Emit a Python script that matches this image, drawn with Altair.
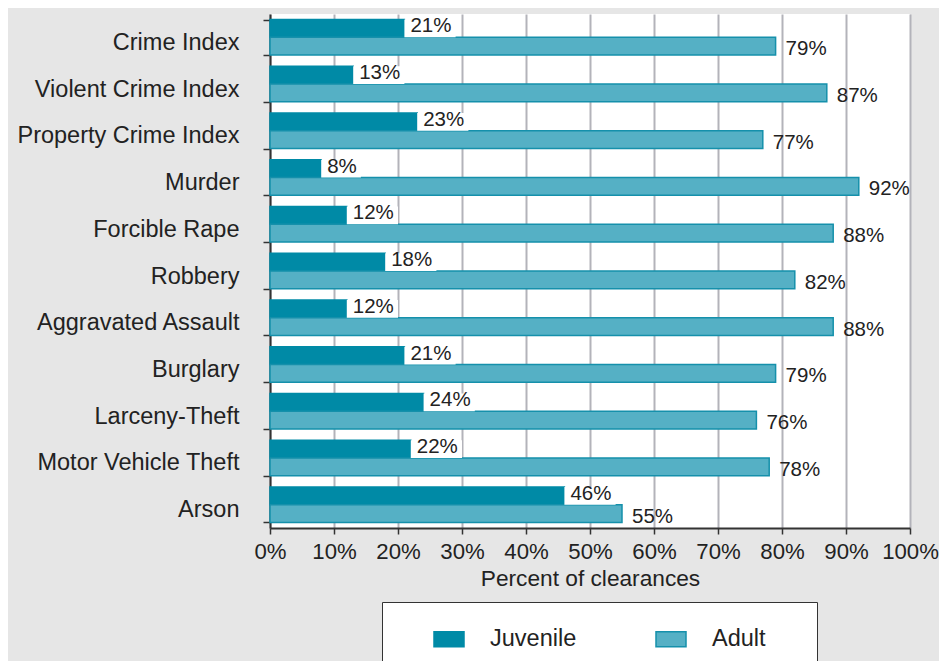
import altair as alt
import pandas as pd

categories = ["Crime Index", "Violent Crime Index", "Property Crime Index", "Murder",
              "Forcible Rape", "Robbery", "Aggravated Assault", "Burglary",
              "Larceny-Theft", "Motor Vehicle Theft", "Arson"]
juvenile = [21, 13, 23, 8, 12, 18, 12, 21, 24, 22, 46]
adult = [79, 87, 77, 92, 88, 82, 88, 79, 76, 78, 55]
series = ["Juvenile", "Adult"]
x_ticks = list(range(0, 101, 10))

FONT = "Liberation Sans"
TEXT = "#222222"
JUV = "#008aa6"
ADU = "#55b0c5"
ADU_STROKE = "#1590ab"

rows = []
for c, j, a in zip(categories, juvenile, adult):
    rows.append({"offense": c, "group": "Juvenile", "pct": j})
    rows.append({"offense": c, "group": "Adult", "pct": a})
df = pd.DataFrame(rows)

y_enc = alt.Y("offense:N", sort=categories,
              scale=alt.Scale(paddingInner=0.24, paddingOuter=0.12),
              axis=alt.Axis(title=None, labelFontSize=23.5, labelFont=FONT,
                            labelColor=TEXT, labelPadding=24, labelLimit=400,
                            tickSize=7, tickWidth=1.5, tickColor="#333333",
                            tickBand="extent", domainColor="#333333", domainWidth=2,
                            labelOffset=5))
yo_enc = alt.YOffset("group:N", sort=series,
                     scale=alt.Scale(paddingInner=0, paddingOuter=0))
x_enc = alt.X("pct:Q", scale=alt.Scale(domain=[0, 100], nice=False),
              axis=alt.Axis(values=x_ticks, labelExpr="datum.value + '%'",
                            labelOverlap=False, labelFlush=False,
                            title="Percent of clearances", titleFontSize=22.7,
                            titleFont=FONT, titleFontWeight="normal", titleColor=TEXT,
                            titlePadding=5, labelFontSize=22.2, labelFont=FONT,
                            labelColor=TEXT, labelPadding=6, tickSize=6, tickWidth=1.5,
                            tickColor="#333333", domainColor="#333333", domainWidth=2,
                            grid=True, gridColor="#b3b3ba", gridWidth=2))

base = alt.Chart(df)

bars = base.mark_bar(strokeWidth=1.5).encode(
    x=x_enc,
    y=y_enc,
    yOffset=yo_enc,
    color=alt.Color("group:N", sort=series,
                    scale=alt.Scale(domain=series, range=[JUV, ADU]),
                    legend=alt.Legend(title="\u00a0", titleOrient="right", titlePadding=30,
                                      titleFontSize=10,
                                      orient="none", legendX=112, legendY=588,
                                      direction="horizontal", fillColor="white",
                                      strokeColor="#333333", padding=21,
                                      symbolType="M-1,-0.5H1V0.5H-1Z", symbolSize=900,
                                      symbolStrokeWidth=1.5, labelFontSize=23.5,
                                      labelFont=FONT, labelColor=TEXT, labelOffset=25,
                                      columnPadding=48, symbolOffset=30)),
    stroke=alt.Stroke("group:N", sort=series,
                      scale=alt.Scale(domain=series, range=[JUV, ADU_STROKE]),
                      legend=None),
)

juv = base.transform_filter("datum.group == 'Juvenile'").transform_calculate(
    label="datum.pct + '%'",
    box_end="datum.pct + (datum.pct >= 10 ? 8.0 : 6.2)",
)

boxes = juv.mark_bar(color="white").encode(
    x="pct:Q", x2="box_end:Q", y=alt.Y("offense:N", sort=categories), yOffset=yo_enc
)

juv_text = juv.mark_text(align="left", baseline="middle", dx=6, dy=-2,
                         fontSize=20.5, font=FONT, color=TEXT).encode(
    x="pct:Q", y=alt.Y("offense:N", sort=categories), yOffset=yo_enc, text="label:N"
)

adu_text = base.transform_filter("datum.group == 'Adult'").transform_calculate(
    label="datum.pct + '%'"
).mark_text(align="left", baseline="middle", dx=10, dy=3,
            fontSize=20.5, font=FONT, color=TEXT).encode(
    x="pct:Q", y=alt.Y("offense:N", sort=categories), yOffset=yo_enc, text="label:N"
)

chart = alt.layer(bars, boxes, juv_text, adu_text).properties(
    width=640, height=514,
    background="#e6e6e6",
    autosize=alt.AutoSizeParams(type="none"),
    padding={"left": 262, "top": 6, "right": 29, "bottom": 133},
).configure_view(fill="white", stroke=None)

chart.save("out.html", embed_options={"renderer": "svg", "actions": False})
